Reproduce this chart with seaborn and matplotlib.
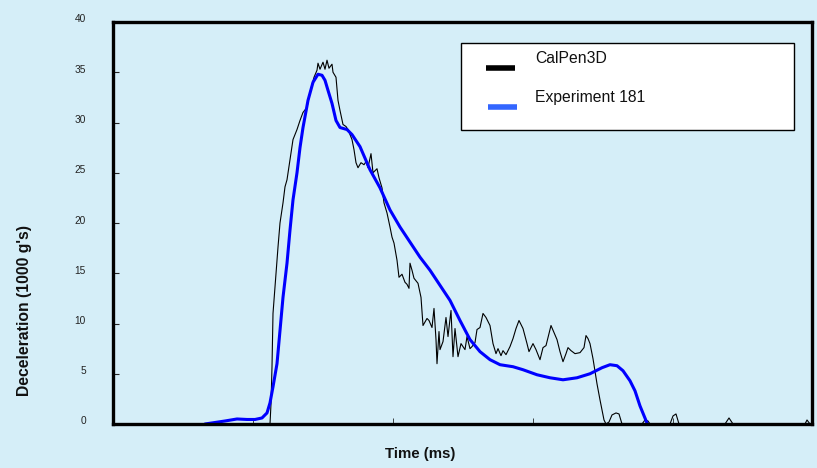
import matplotlib
matplotlib.use("Agg")
import matplotlib.pyplot as plt
import matplotlib.transforms as mtransforms
from matplotlib.patches import Rectangle
from matplotlib.lines import Line2D
import seaborn as sns
import pandas as pd

# ---- data ----
calpen_t = [0.00, 1.57, 1.58, 1.59, 1.60, 1.63, 1.65, 1.67, 1.70, 1.72, 1.74, 1.77, 1.80, 1.84,
            1.87, 1.90, 1.94, 1.97, 2.01, 2.04, 2.05, 2.07, 2.10, 2.12, 2.14, 2.16, 2.19, 2.20,
            2.23, 2.25, 2.27, 2.30, 2.33, 2.35, 2.39, 2.41, 2.43, 2.45, 2.48, 2.51, 2.53, 2.55,
            2.58, 2.60, 2.64, 2.66, 2.69, 2.71, 2.74, 2.77, 2.79, 2.81, 2.84, 2.86, 2.89, 2.92,
            2.94, 2.96, 2.97, 2.99, 3.01, 3.05, 3.08, 3.10, 3.14, 3.16, 3.19, 3.21, 3.23, 3.24,
            3.26, 3.27, 3.30, 3.33, 3.35, 3.38, 3.40, 3.42, 3.45, 3.48, 3.52, 3.54, 3.57, 3.59,
            3.62, 3.64, 3.67, 3.70, 3.73, 3.77, 3.80, 3.83, 3.85, 3.88, 3.90, 3.93, 3.97, 4.00,
            4.03, 4.06, 4.10, 4.14, 4.16, 4.20, 4.23, 4.27, 4.30, 4.33, 4.36, 4.38, 4.41, 4.44,
            4.47, 4.50, 4.53, 4.55, 4.58, 4.62, 4.67, 4.71, 4.73, 4.75, 4.77, 4.80, 4.84, 4.87,
            4.91, 4.93, 4.96, 4.99, 5.03, 5.06, 5.09, 5.29, 5.32, 5.35, 5.37, 5.57, 5.60, 5.63,
            5.66, 6.12, 6.16, 6.20, 6.92, 6.94, 6.97]
calpen_g = [0.0, 0.0, 2.0, 5.7, 11.0, 15.0, 17.6, 20.0, 22.0, 23.6, 24.3, 26.3, 28.3, 29.3,
            30.2, 31.0, 31.5, 33.0, 34.5, 35.2, 35.9, 35.3, 36.0, 35.3, 36.2, 35.4, 35.8, 35.0,
            34.5, 32.2, 31.2, 29.8, 29.6, 29.3, 28.3, 27.3, 26.0, 25.5, 26.0, 25.8, 26.1, 25.5,
            26.9, 25.0, 25.4, 24.5, 23.5, 22.0, 21.0, 19.6, 18.6, 18.0, 16.3, 14.6, 14.9, 14.1,
            13.9, 13.5, 16.0, 15.3, 14.5, 14.0, 12.6, 9.8, 10.5, 10.3, 9.6, 11.5, 8.4, 6.0,
            9.2, 7.4, 8.2, 10.6, 8.7, 11.3, 6.7, 9.5, 6.7, 8.0, 7.4, 8.7, 7.5, 7.7,
            8.1, 9.4, 9.6, 11.0, 10.6, 9.8, 8.0, 7.0, 7.5, 6.8, 7.3, 6.9, 7.7, 8.5,
            9.5, 10.3, 9.5, 8.0, 7.2, 8.0, 7.4, 6.4, 7.6, 7.8, 9.0, 9.8, 9.1, 8.4,
            7.2, 6.2, 7.0, 7.6, 7.3, 7.0, 7.1, 7.6, 8.8, 8.5, 8.0, 6.5, 4.0, 2.4,
            0.4, 0.0, 0.2, 0.9, 1.1, 1.0, 0.0, 0.0, 0.4, 0.3, 0.0, 0.0, 0.8, 1.0,
            0.0, 0.0, 0.6, 0.0, 0.0, 0.4, 0.0]

exp_t = [0.92, 1.02, 1.12, 1.24, 1.34, 1.42, 1.49, 1.54, 1.57, 1.60, 1.64, 1.67, 1.70, 1.74,
         1.77, 1.80, 1.84, 1.87, 1.90, 1.95, 2.00, 2.05, 2.09, 2.12, 2.15, 2.19, 2.23, 2.27,
         2.34, 2.39, 2.47, 2.57, 2.67, 2.77, 2.87, 2.97, 3.07, 3.17, 3.27, 3.37, 3.47, 3.57,
         3.67, 3.77, 3.87, 4.00, 4.10, 4.24, 4.37, 4.50, 4.64, 4.77, 4.89, 4.97, 5.04, 5.10,
         5.17, 5.22, 5.27, 5.34]
exp_g = [0.0, 0.15, 0.3, 0.5, 0.45, 0.45, 0.6, 1.1, 2.1, 3.7, 6.0, 9.3, 12.6, 16.0,
         19.3, 22.3, 25.0, 27.5, 29.5, 32.2, 34.0, 34.8, 34.7, 34.2, 33.2, 31.9, 30.2, 29.5,
         29.3, 28.8, 27.6, 25.3, 23.5, 21.3, 19.6, 18.1, 16.6, 15.3, 13.8, 12.3, 10.3, 8.4,
         7.2, 6.4, 5.9, 5.7, 5.4, 4.9, 4.6, 4.4, 4.6, 5.0, 5.6, 5.9, 5.8, 5.3,
         4.3, 3.3, 1.8, 0.1]

y_ticks = [0, 5, 10, 15, 20, 25, 30, 35, 40]
x_ticks = [1.4, 2.8, 4.2, 5.6]
series_names = ["CalPen3D", "Experiment 181"]

# ---- style ----
BG = "#d5eef8"
sns.set_theme(style="ticks")
plt.rcParams["font.family"] = ["Liberation Sans", "DejaVu Sans"]

fig = plt.figure(figsize=(8.17, 4.68), dpi=100, facecolor=BG)
ax = fig.add_axes([113 / 817, 1 - 424 / 468, 699 / 817, 402 / 468])
ax.set_facecolor(BG)

df_cal = pd.DataFrame({"t": calpen_t, "g": calpen_g})
df_exp = pd.DataFrame({"t": exp_t, "g": exp_g})

sns.lineplot(data=df_cal, x="t", y="g", ax=ax, color="black", linewidth=0.8,
             estimator=None, sort=False, legend=False)
sns.lineplot(data=df_exp, x="t", y="g", ax=ax, color="#0000ff", linewidth=2.2,
             estimator=None, sort=False, legend=False)

ax.set_xlim(0, 6.99)
ax.set_ylim(0, 40)
ax.set_yticks(y_ticks)
ax.set_yticklabels([str(v) for v in y_ticks])
ax.set_xticks(x_ticks)
ax.set_xticklabels([])

for s in ax.spines.values():
    s.set_visible(True)
    s.set_linewidth(2.4)
    s.set_color("black")

ax.tick_params(axis="y", direction="in", length=4, width=0.8, pad=19.5,
               labelsize=7.3, labelcolor="#222222", left=True)
ax.tick_params(axis="x", direction="in", length=4, width=0.6, bottom=True)
offset = mtransforms.ScaledTranslation(0, 3.5 / 100, fig.dpi_scale_trans)
for lbl in ax.get_yticklabels():
    lbl.set_transform(lbl.get_transform() + offset)

ax.set_xlabel("Time (ms)", fontsize=10.8, fontweight="bold", color="#111111")
ax.set_ylabel("Deceleration (1000 g's)", fontsize=11.3, fontweight="bold", color="#111111")
ax.xaxis.set_label_coords(0.439, -0.058)
ax.yaxis.set_label_coords(-0.116, 0.282)

# ---- legend box ----
ax.add_patch(Rectangle((0.498, 0.731), 0.476, 0.217, transform=ax.transAxes,
                       facecolor="white", edgecolor="black", linewidth=1.0, zorder=5))
ax.add_line(Line2D([0.534, 0.575], [0.886, 0.886], transform=ax.transAxes,
                   color="black", linewidth=4, solid_capstyle="butt", zorder=6))
ax.add_line(Line2D([0.536, 0.578], [0.789, 0.789], transform=ax.transAxes,
                   color="#3366ff", linewidth=4, solid_capstyle="butt", zorder=6))
ax.text(0.604, 0.910, series_names[0], transform=ax.transAxes, fontsize=11.3,
        va="center", ha="left", color="#111111", zorder=7)
ax.text(0.604, 0.811, series_names[1], transform=ax.transAxes, fontsize=11.3,
        va="center", ha="left", color="#111111", zorder=7)

fig.savefig("out.png", dpi=100, facecolor=BG)
